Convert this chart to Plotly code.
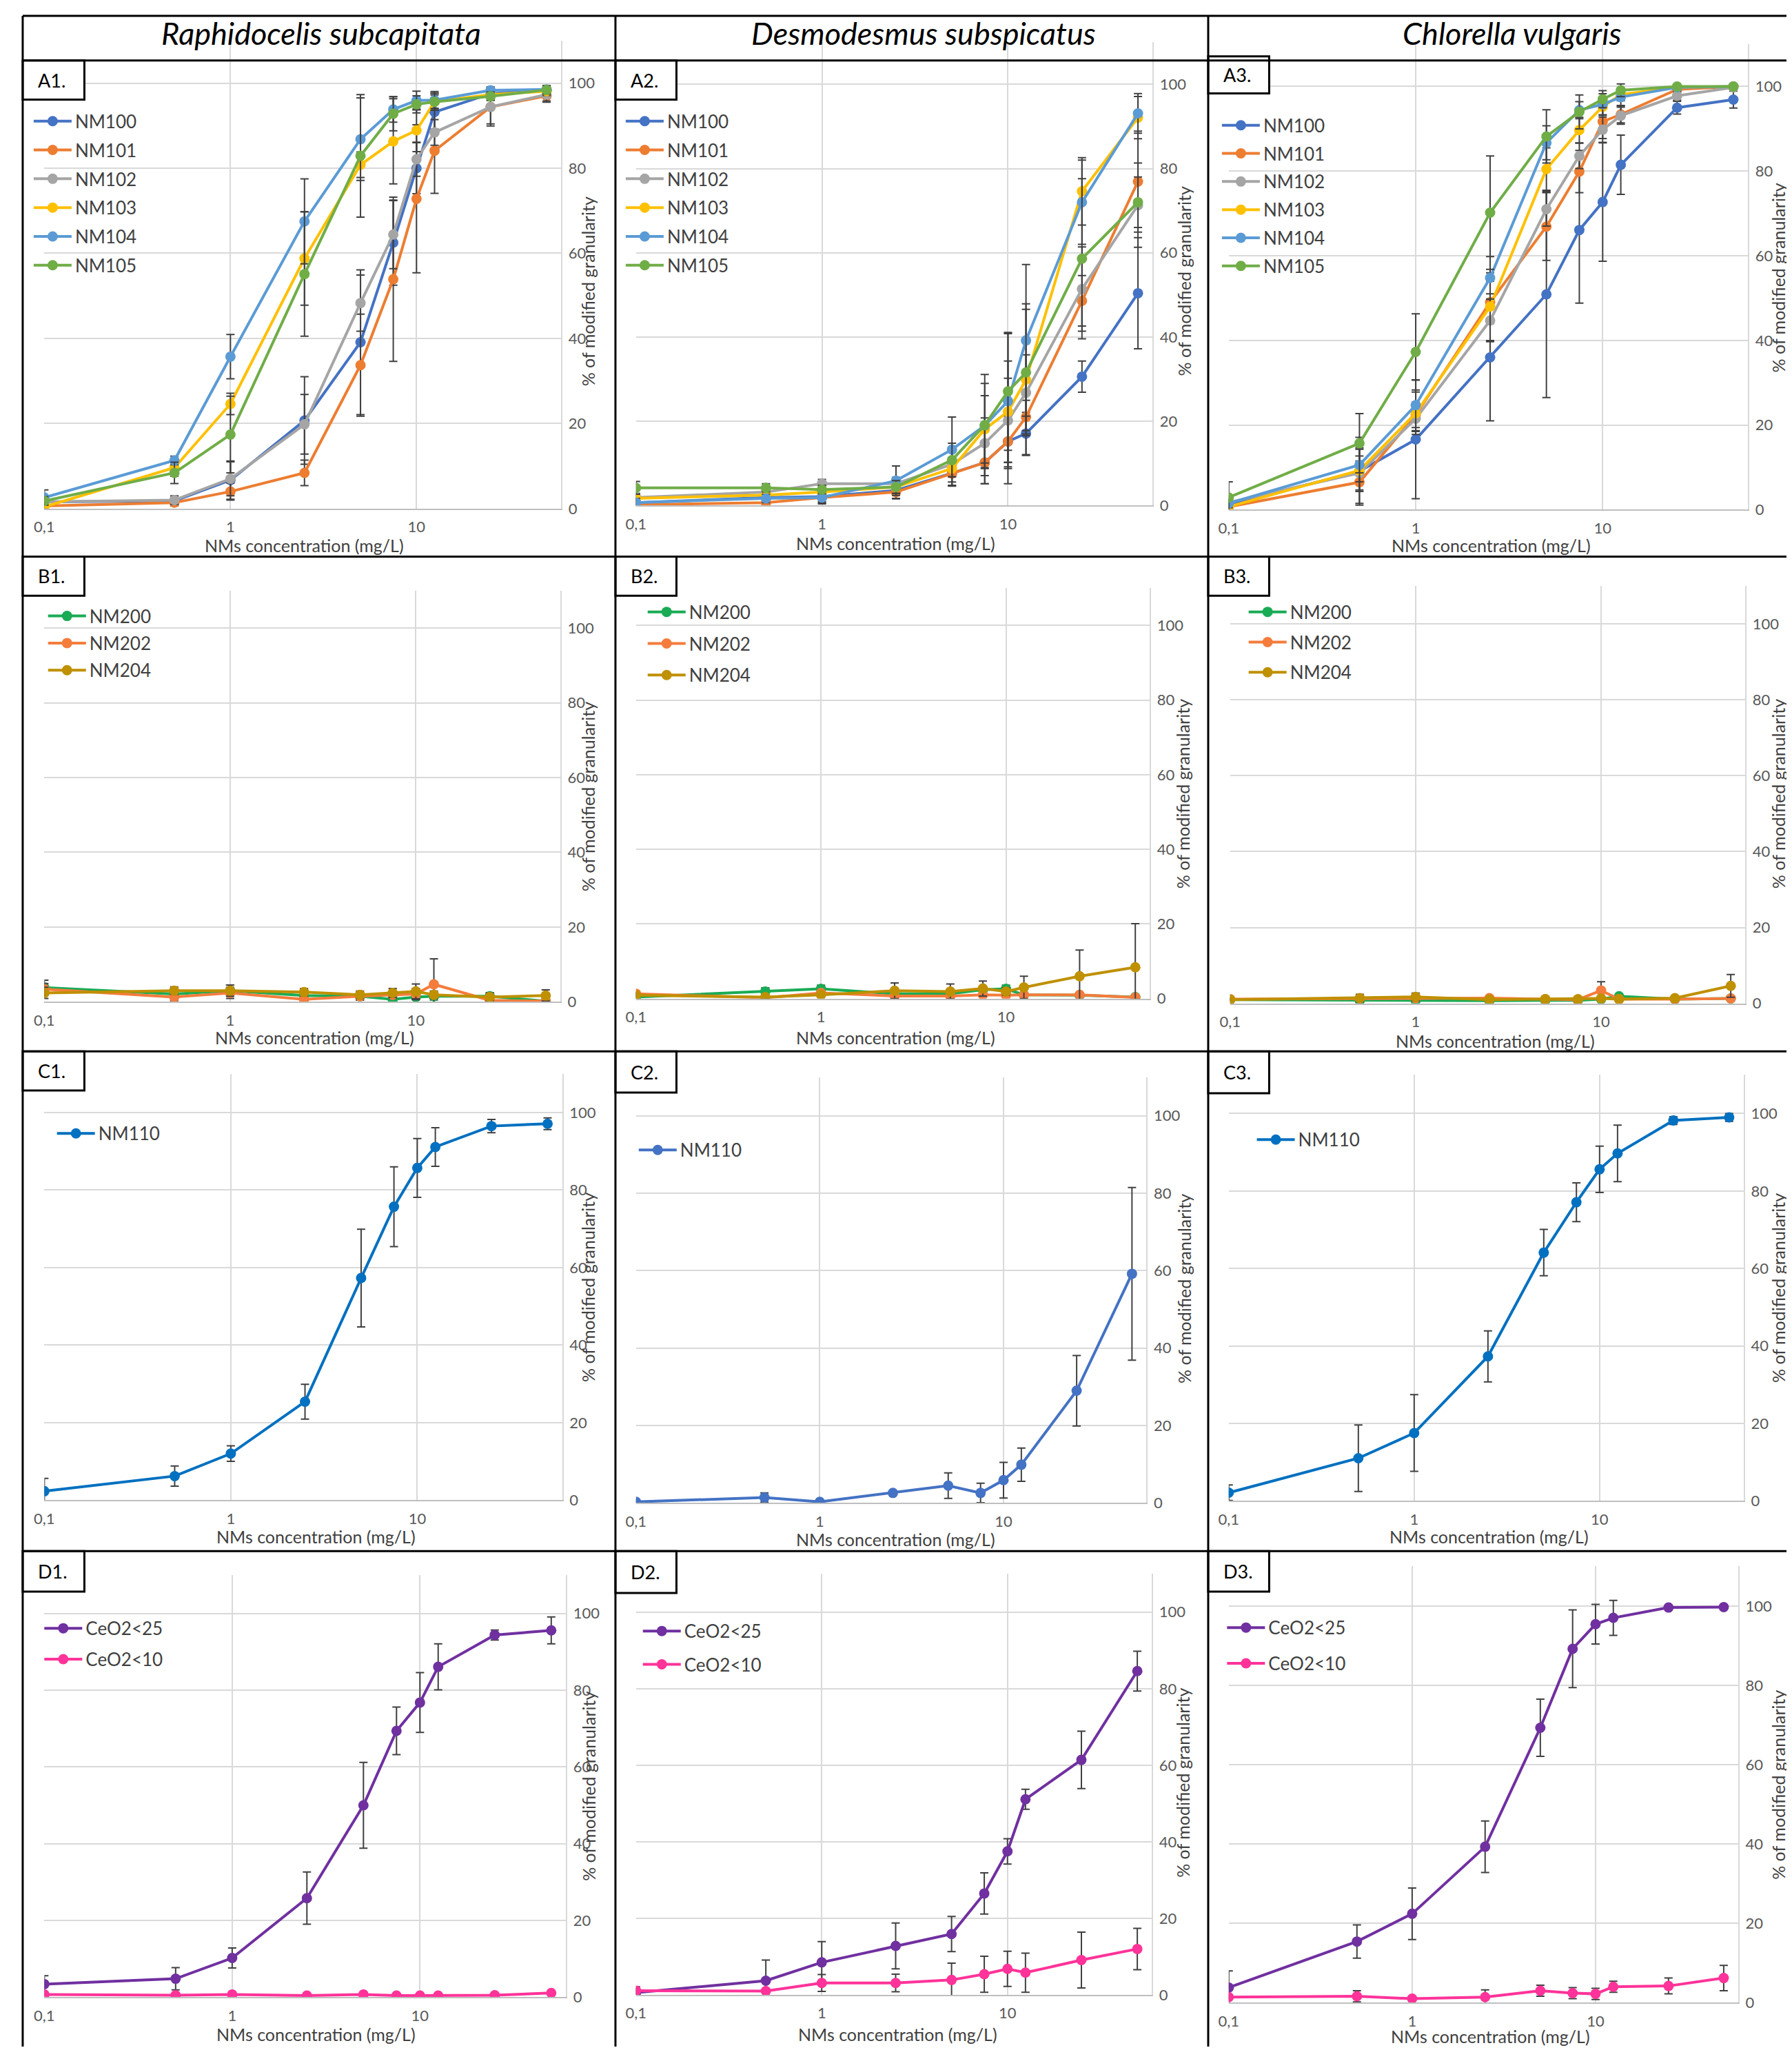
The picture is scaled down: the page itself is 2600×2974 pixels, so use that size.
import math
import plotly.graph_objects as go

W, H = 2600, 2974

# ---------------- data ----------------
CONC = [0.1, 0.5, 1, 2.5, 5, 7.5, 10, 12.5, 25, 50]
X_TICKS = [0.1, 1, 10]
X_TICK_TEXT = ["0,1", "1", "10"]
Y_TICKS = [0, 20, 40, 60, 80, 100]
X_MAX = 60
Y_MAX = 110
SPECIES = ["Raphidocelis subcapitata", "Desmodesmus subspicatus", "Chlorella vulgaris"]
X_TITLE = "NMs concentration (mg/L)"
Y_TITLE = "% of modified granularity"

# A1 - Raphidocelis subcapitata, NM10x
A1_NM100 = [1.6, 1.8, 6.7, 20.7, 39.1, 62.5, 80.0, 93.2, 97.5, 98.4]
A1_NM100_ERR = [1.0, 1.0, 4.5, 10.3, 17.0, 10.0, 6.0, 4.0, 1.5, 1.0]
A1_NM101 = [0.6, 1.4, 4.0, 8.4, 33.7, 53.9, 72.8, 84.1, 94.4, 97.0]
A1_NM101_ERR = [0.5, 0.8, 2.0, 3.0, 12.0, 19.3, 17.4, 10.0, 4.0, 1.5]
A1_NM102 = [1.6, 2.0, 7.0, 19.8, 48.3, 64.4, 82.1, 88.4, 94.4, 97.3]
A1_NM102_ERR = [1.0, 1.0, 4.0, 7.0, 6.6, 8.0, 4.0, 3.0, 4.5, 1.5]
A1_NM103 = [0.4, 9.6, 24.6, 58.8, 80.8, 86.3, 88.9, 95.6, 97.3, 98.1]
A1_NM103_ERR = [0.5, 2.0, 2.5, 11.0, 3.0, 10.0, 5.0, 2.0, 1.0, 1.0]
A1_NM104 = [2.6, 11.3, 35.7, 67.5, 86.8, 93.8, 95.9, 96.0, 98.3, 98.5]
A1_NM104_ERR = [1.8, 1.0, 5.2, 10.0, 9.7, 3.0, 2.2, 2.0, 0.8, 0.8]
A1_NM105 = [1.8, 8.4, 17.4, 55.1, 82.9, 92.8, 95.0, 95.6, 96.9, 98.4]
A1_NM105_ERR = [1.0, 2.5, 9.0, 14.6, 14.4, 4.0, 2.0, 2.0, 1.0, 1.0]

# A2 - Desmodesmus subspicatus, NM10x
A2_NM100 = [0.7, 1.9, 2.1, 3.6, 7.7, 10.2, 15.2, 17.1, 30.6, 50.4]
A2_NM100_ERR = [1.0, 1.0, 1.5, 2.0, 3.0, 5.0, 6.0, 5.0, 3.7, 13.2]
A2_NM101 = [0.2, 0.7, 1.9, 3.2, 7.6, 10.2, 15.2, 21.0, 48.6, 76.9]
A2_NM101_ERR = [0.5, 0.5, 1.0, 1.5, 3.0, 5.0, 10.0, 4.0, 6.0, 12.0]
A2_NM102 = [1.9, 3.2, 5.2, 5.2, 9.8, 14.8, 20.2, 26.8, 51.4, 71.3]
A2_NM102_ERR = [1.0, 1.0, 1.0, 1.5, 3.0, 6.0, 10.0, 9.0, 10.0, 10.0]
A2_NM103 = [1.7, 2.5, 3.2, 4.4, 8.8, 18.1, 22.3, 29.9, 74.6, 92.1]
A2_NM103_ERR = [1.0, 1.0, 1.0, 1.5, 4.0, 8.0, 12.0, 18.0, 8.0, 5.0]
A2_NM104 = [0.7, 1.7, 1.9, 5.9, 13.3, 19.0, 24.8, 39.2, 72.0, 93.1]
A2_NM104_ERR = [1.0, 1.0, 1.5, 3.5, 7.7, 10.0, 16.0, 18.0, 10.0, 4.7]
A2_NM105 = [4.2, 4.2, 3.8, 4.4, 10.8, 19.1, 27.1, 31.6, 58.6, 72.0]
A2_NM105_ERR = [1.5, 1.0, 1.0, 1.5, 4.0, 12.0, 14.0, 15.0, 19.0, 6.0]

# A3 - Chlorella vulgaris, NM10x
A3_NM100 = [1.2, 9.1, 16.6, 36.0, 50.9, 66.1, 72.7, 81.5, 95.0, 96.9]
A3_NM100_ERR = [1.0, 8.0, 14.0, 15.0, 24.4, 17.3, 14.0, 7.0, 1.5, 2.0]
A3_NM101 = [0.7, 6.5, 22.4, 49.0, 66.9, 79.9, 91.7, 93.4, 99.3, 100.0]
A3_NM101_ERR = [0.5, 5.0, 3.0, 5.0, 8.0, 5.0, 4.0, 2.0, 0.5, 0.3]
A3_NM102 = [1.7, 8.7, 21.5, 44.7, 71.0, 83.6, 89.8, 93.1, 97.8, 99.8]
A3_NM102_ERR = [1.0, 4.0, 3.0, 5.0, 4.0, 3.0, 3.0, 2.0, 1.0, 0.3]
A3_NM103 = [0.7, 9.3, 22.8, 48.0, 80.5, 89.7, 95.2, 98.1, 99.8, 100.0]
A3_NM103_ERR = [0.5, 5.0, 5.0, 8.0, 5.0, 3.0, 2.0, 1.5, 0.3, 0.3]
A3_NM104 = [1.5, 10.6, 24.7, 54.8, 86.7, 94.4, 95.8, 97.5, 99.8, 100.0]
A3_NM104_ERR = [1.0, 4.0, 6.0, 5.0, 4.0, 2.0, 2.5, 2.0, 0.3, 0.3]
A3_NM105 = [2.9, 15.7, 37.3, 70.2, 88.2, 94.0, 97.0, 99.1, 100.0, 100.0]
A3_NM105_ERR = [3.7, 7.0, 9.0, 13.4, 6.3, 4.0, 2.0, 1.5, 0.3, 0.3]

# B row, NM20x
B1_NM200 = [3.8, 2.1, 3.0, 1.7, 1.5, 0.7, 1.3, 1.5, 1.5, 0.2]
B1_NM200_ERR = [2.0, 1.0, 1.5, 1.0, 1.0, 1.0, 1.5, 1.0, 1.0, 0.5]
B1_NM202 = [3.4, 1.3, 2.4, 0.7, 1.5, 1.9, 2.1, 4.7, 0.4, 0.2]
B1_NM202_ERR = [1.5, 1.0, 1.5, 0.5, 1.0, 1.0, 1.5, 6.8, 0.5, 0.3]
B1_NM204 = [2.4, 3.0, 3.0, 2.6, 1.9, 2.4, 2.8, 1.9, 1.3, 1.7]
B1_NM204_ERR = [1.5, 1.0, 1.5, 1.0, 1.0, 1.2, 2.0, 1.0, 1.0, 1.5]

B2_NM200 = [0.4, 1.9, 2.6, 1.3, 1.3, 2.4, 2.6, 1.0, 0.9, 0.4]
B2_NM200_ERR = [1.0, 1.0, 1.0, 0.5, 0.5, 0.5, 1.0, 0.5, 0.5, 0.3]
B2_NM202 = [1.3, 0.2, 1.5, 0.7, 0.7, 1.0, 0.9, 1.0, 1.0, 0.3]
B2_NM202_ERR = [0.5, 0.3, 0.8, 0.5, 0.5, 0.5, 0.5, 0.5, 0.5, 0.3]
B2_NM204 = [0.9, 0.4, 1.0, 2.1, 1.9, 2.7, 1.9, 3.0, 6.0, 8.4]
B2_NM204_ERR = [0.5, 0.3, 0.5, 2.1, 2.0, 2.0, 1.0, 3.0, 7.0, 11.7]

B3_NM200 = [1.0, 0.8, 0.8, 0.7, 0.8, 0.8, 1.1, 1.9, 1.1, 1.3]
B3_NM200_ERR = [0.3, 0.3, 0.3, 0.3, 0.3, 0.3, 0.3, 0.3, 0.3, 0.3]
B3_NM202 = [1.1, 1.3, 1.4, 1.4, 1.1, 1.0, 3.4, 1.1, 1.1, 1.3]
B3_NM202_ERR = [0.3, 0.5, 0.5, 0.3, 0.3, 0.3, 2.3, 0.3, 0.3, 0.3]
B3_NM204 = [1.0, 1.4, 1.7, 1.0, 1.1, 1.1, 1.3, 1.1, 1.4, 4.6]
B3_NM204_ERR = [0.3, 1.0, 1.0, 0.3, 0.3, 0.3, 0.5, 0.3, 0.5, 3.0]

# C row, NM110
C1_NM110 = [2.3, 6.2, 12.0, 25.4, 57.3, 75.7, 85.7, 91.1, 96.5, 97.1]
C1_NM110_ERR = [3.3, 2.6, 2.0, 4.5, 12.6, 10.3, 7.6, 5.0, 1.7, 1.5]
C2_NM110 = [0.3, 1.4, 0.3, 2.6, 4.5, 2.6, 5.9, 9.9, 29.0, 59.2]
C2_NM110_ERR = [0.5, 1.2, 0.5, 0.5, 3.3, 2.5, 4.6, 4.3, 9.1, 22.3]
C3_NM110 = [2.1, 11.0, 17.5, 37.3, 64.1, 77.1, 85.6, 89.7, 98.2, 99.0]
C3_NM110_ERR = [2.0, 8.6, 9.9, 6.6, 6.0, 5.0, 6.0, 7.3, 1.0, 1.0]

# D row, CeO2
D1_CEO2_25 = [3.4, 4.8, 10.2, 25.8, 50.0, 69.4, 76.8, 86.1, 94.4, 95.6]
D1_CEO2_25_ERR = [2.2, 2.9, 2.6, 6.8, 11.2, 6.2, 7.8, 6.0, 1.3, 3.5]
D1_CEO2_10 = [0.7, 0.5, 0.7, 0.4, 0.7, 0.4, 0.4, 0.4, 0.5, 1.1]
D1_CEO2_10_ERR = [0.2, 0.2, 0.2, 0.2, 0.2, 0.2, 0.2, 0.2, 0.2, 0.2]
D2_CEO2_25 = [0.6, 3.7, 8.5, 12.8, 15.9, 26.5, 37.5, 51.1, 61.4, 84.6]
D2_CEO2_25_ERR = [1.0, 5.4, 5.4, 6.0, 4.6, 5.4, 3.3, 2.6, 7.5, 5.2]
D2_CEO2_10 = [1.1, 1.0, 3.1, 3.1, 3.9, 5.4, 6.8, 5.8, 9.1, 12.0]
D2_CEO2_10_ERR = [1.0, 0.5, 2.2, 2.3, 4.4, 4.7, 4.6, 5.1, 7.3, 5.4]
D3_CEO2_25 = [3.8, 15.4, 22.4, 39.3, 69.3, 89.2, 95.4, 97.0, 99.6, 99.7]
D3_CEO2_25_ERR = [4.2, 4.2, 6.5, 6.5, 7.2, 9.8, 5.0, 4.4, 0.5, 0.5]
D3_CEO2_10 = [1.4, 1.6, 1.0, 1.4, 3.0, 2.4, 2.2, 4.0, 4.2, 6.2]
D3_CEO2_10_ERR = [0.5, 1.4, 0.5, 1.8, 1.4, 1.4, 1.4, 1.4, 2.0, 3.2]

# ---------------- styles ----------------
C_NM100, C_NM101, C_NM102 = "#4472C4", "#ED7D31", "#A5A5A5"
C_NM103, C_NM104, C_NM105 = "#FFC000", "#5B9BD5", "#70AD47"
C_NM200, C_NM202, C_NM204 = "#1AAB55", "#F47C3C", "#BF9000"
C_NM110, C_NM110B = "#0070C0", "#4472C4"
C_CE25, C_CE10 = "#7030A0", "#FF3399"

def nm10x(p):
    g = globals()
    names = ["NM100", "NM101", "NM102", "NM103", "NM104", "NM105"]
    cols = [C_NM100, C_NM101, C_NM102, C_NM103, C_NM104, C_NM105]
    return [(n, g[f"{p}_{n}"], g[f"{p}_{n}_ERR"], c) for n, c in zip(names, cols)]

def nm20x(p):
    g = globals()
    names = ["NM200", "NM202", "NM204"]
    cols = [C_NM200, C_NM202, C_NM204]
    return [(n, g[f"{p}_{n}"], g[f"{p}_{n}_ERR"], c) for n, c in zip(names, cols)]

# panel geometry (pixels): plot x-left/right, y of value 0, y of value 100
PANELS = [
    dict(lab="A1", x0=41.6, x1=796, y0=733, y100=113, ser=nm10x("A1"),
         leg=(107, 166, 5), xt=(441, 786), yt=(855, 417), box=(10, 80, 100, 137)),
    dict(lab="A2", x0=905, x1=1659, y0=728.6, y100=114.8, ser=nm10x("A2"),
         leg=(971, 166, 5), xt=(1304, 783), yt=(1725, 402), box=(875, 80, 964, 137)),
    dict(lab="A3", x0=1770, x1=2528, y0=734.7, y100=118, ser=nm10x("A3"),
         leg=(1841, 172, 4), xt=(2173, 786), yt=(2592, 397), box=(1740, 74, 1829, 128)),
    dict(lab="B1", x0=41.6, x1=794.7, y0=1451.8, y100=907, ser=nm20x("B1"),
         leg=(128, 887, 2.5), xt=(456, 1504), yt=(855, 1153), box=(10, 803, 100, 860)),
    dict(lab="B2", x0=905, x1=1655, y0=1447, y100=903.4, ser=nm20x("B2"),
         leg=(1003, 881, 9), xt=(1304, 1504), yt=(1723, 1149), box=(875, 803, 964, 860)),
    dict(lab="B3", x0=1772, x1=2524, y0=1454, y100=901, ser=nm20x("B3"),
         leg=(1880, 881, 7), xt=(2179, 1509), yt=(2592, 1149), box=(1740, 803, 1829, 860)),
    dict(lab="C1", x0=41.6, x1=797.5, y0=2177.8, y100=1613,
         ser=[("NM110", C1_NM110, C1_NM110_ERR, C_NM110)],
         leg=(141, 1641, 5), xt=(458, 2231), yt=(855, 1868), box=(10, 1524, 100, 1581)),
    dict(lab="C2", x0=905, x1=1650, y0=2182, y100=1617.8,
         ser=[("NM110", C2_NM110, C2_NM110_ERR, C_NM110B)],
         leg=(990, 1665, 5), xt=(1304, 2235), yt=(1725, 1870), box=(875, 1524, 964, 1584)),
    dict(lab="C3", x0=1770, x1=2521.7, y0=2178.8, y100=1614.5,
         ser=[("NM110", C3_NM110, C3_NM110_ERR, C_NM110)],
         leg=(1892, 1650, 5), xt=(2170, 2231), yt=(2592, 1869), box=(1740, 1524, 1829, 1585)),
    dict(lab="D1", x0=41.6, x1=803, y0=2902, y100=2343,
         ser=[("CeO2<25", D1_CEO2_25, D1_CEO2_25_ERR, C_CE25), ("CeO2<10", D1_CEO2_10, D1_CEO2_10_ERR, C_CE10)],
         leg=(122.5, 2362, 8), xt=(458, 2956), yt=(855, 2595), box=(10, 2252, 100, 2311)),
    dict(lab="D2", x0=905, x1=1658, y0=2898.7, y100=2341,
         ser=[("CeO2<25", D2_CEO2_25, D2_CEO2_25_ERR, C_CE25), ("CeO2<10", D2_CEO2_10, D2_CEO2_10_ERR, C_CE10)],
         leg=(996, 2366, 11.5), xt=(1307, 2956), yt=(1723, 2590), box=(875, 2252, 964, 2313)),
    dict(lab="D3", x0=1770, x1=2513.5, y0=2910, y100=2332,
         ser=[("CeO2<25", D3_CEO2_25, D3_CEO2_25_ERR, C_CE25), ("CeO2<10", D3_CEO2_10, D3_CEO2_10_ERR, C_CE10)],
         leg=(1848.5, 2361, 15), xt=(2172, 2959), yt=(2592, 2593), box=(1740, 2252, 1829, 2311)),
]

FONT = "Lato, 'Open Sans', sans-serif"
GRID = "#D9D9D9"
TICK_COL = "#595959"
CENTER_FIX_X = -20      # empirical correction of centred annotations
TITLE_FIX_Y = -9

def fx(px):
    return px / W

def fy(py):
    return 1 - py / H

fig = go.Figure()
layout = dict(width=W, height=H, margin=dict(l=0, r=0, t=0, b=0),
              paper_bgcolor="white", plot_bgcolor="white",
              font=dict(family=FONT, color=TICK_COL), showlegend=True)
annotations = []
shapes = []

for i, p in enumerate(PANELS, start=1):
    sfx = "" if i == 1 else str(i)
    xa, ya = "x" + sfx, "y" + sfx
    legname = "legend" + sfx
    ytop = p["y0"] - (p["y0"] - p["y100"]) * Y_MAX / 100.0
    layout["xaxis" + sfx] = dict(
        type="log", range=[-1, math.log10(X_MAX)],
        domain=[fx(p["x0"]), fx(p["x1"])], anchor=ya,
        tickvals=X_TICKS, ticktext=X_TICK_TEXT, ticks="",
        showgrid=True, gridcolor=GRID, gridwidth=2,
        showline=True, linecolor="#BFBFBF", linewidth=2,
        zeroline=False, tickfont=dict(size=22, color=TICK_COL, family=FONT),
        ticklabelstandoff=6, fixedrange=True)
    layout["yaxis" + sfx] = dict(
        range=[0, Y_MAX], domain=[fy(p["y0"]), fy(ytop)], anchor=xa, side="right",
        tickvals=Y_TICKS, ticks="", showgrid=True, gridcolor=GRID, gridwidth=2,
        showline=True, linecolor=GRID, linewidth=2, zeroline=False,
        tickfont=dict(size=22, color=TICK_COL, family=FONT),
        ticklabelstandoff=4, fixedrange=True)
    for j, (name, vals, errs, col) in enumerate(p["ser"]):
        fig.add_trace(go.Scatter(
            x=CONC, y=vals, name=name, mode="lines+markers",
            xaxis=xa, yaxis=ya, legend=legname, legendgroup=f"{p['lab']}_{j}",
            line=dict(color=col, width=4), marker=dict(color=col, size=15),
            error_y=dict(type="data", array=errs, visible=True,
                         color="#404040", thickness=2, width=6)))
    tx, cy, gap = p["leg"]
    layout[legname] = dict(
        x=fx(tx - 86), y=fy(cy - 21), xanchor="left", yanchor="top",
        bgcolor="rgba(0,0,0,0)", borderwidth=0, tracegroupgap=gap, itemwidth=55,
        font=dict(size=26, color="#404040", family=FONT))
    # axis titles
    annotations.append(dict(x=fx(p["xt"][0] + CENTER_FIX_X), y=fy(p["xt"][1]), xref="paper", yref="paper",
                            text=X_TITLE, showarrow=False, xanchor="center", yanchor="middle",
                            font=dict(size=25, color="#404040", family=FONT)))
    annotations.append(dict(x=fx(p["yt"][0] + CENTER_FIX_X), y=fy(p["yt"][1]), xref="paper", yref="paper",
                            text=Y_TITLE, showarrow=False, textangle=-90,
                            xanchor="center", yanchor="middle",
                            font=dict(size=25, color="#404040", family=FONT)))
    # panel label box
    bx0, by0, bx1, by1 = p["box"]
    shapes.append(dict(type="rect", xref="paper", yref="paper", x0=fx(bx0), x1=fx(bx1),
                       y0=fy(by1), y1=fy(by0), fillcolor="white",
                       line=dict(color="black", width=3), layer="above"))
    annotations.append(dict(x=fx(bx0 + 20), y=fy((by0 + by1) / 2), xref="paper", yref="paper",
                            text=p["lab"] + ".", showarrow=False, xanchor="left", yanchor="middle",
                            font=dict(size=27, color="black", family=FONT)))

# species titles in header row
for sp, cx in zip(SPECIES, [466, 1345, 2204]):
    annotations.append(dict(x=fx(cx + CENTER_FIX_X), y=fy(49 + TITLE_FIX_Y), xref="paper", yref="paper",
                            text=f"<i>{sp}</i>", showarrow=False, xanchor="center", yanchor="middle",
                            font=dict(size=45, color="black", family=FONT)))

# table borders
def hline(y, x0=10, x1=W):
    return dict(type="line", xref="paper", yref="paper", x0=fx(x0), x1=fx(x1), y0=fy(y), y1=fy(y),
                line=dict(color="black", width=3), layer="above")

def vline(x, y0=15, y1=H):
    return dict(type="line", xref="paper", yref="paper", x0=fx(x), x1=fx(x), y0=fy(y0), y1=fy(y1),
                line=dict(color="black", width=3), layer="above")

for yb in [15, 80, 803, 1524, 2252]:
    shapes.append(hline(yb))
for xb in [10, 875, 1740]:
    shapes.append(vline(xb))

layout["annotations"] = annotations
layout["shapes"] = shapes
fig.update_layout(**layout)
fig.write_html("out.html")
